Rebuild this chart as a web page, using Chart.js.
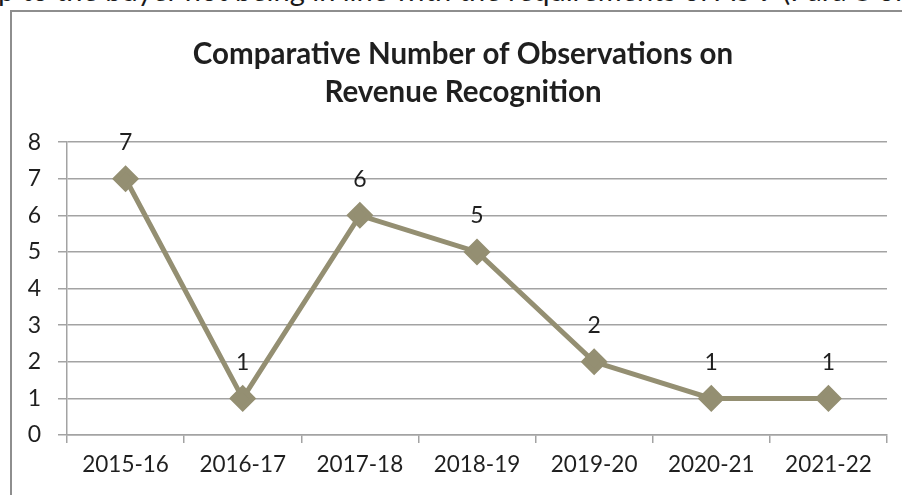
<!DOCTYPE html>
<html>
<head>
<meta charset="utf-8">
<script src="https://cdn.jsdelivr.net/npm/chart.js@4"></script>
<style>
  html, body { margin: 0; padding: 0; background: #fff; overflow: hidden; width: 902px; height: 495px; }
  #above { position: absolute; left: -2px; top: -25px; font: 29px Lato, sans-serif; line-height: 29px; color: #1a1a1a; white-space: nowrap; }
  #box { position: absolute; left: 10px; top: 10px; width: 902px; height: 500px; border: 2px solid #8e8e8e; background: #fff; }
  #wrap { position: relative; width: 902px; height: 500px; }
</style>
</head>
<body>
<div id="above">p to the buyer not being in line with the requirements of AS 9 (Para 8 of</div>
<div id="box"><div id="wrap"><canvas id="obsChart"></canvas></div></div>
<script>
// Chart data
var years = ["2015-16", "2016-17", "2017-18", "2018-19", "2019-20", "2020-21", "2021-22"];
var observations = [7, 1, 6, 5, 2, 1, 1];
var titleLines = ["Comparative Number of Observations on", "Revenue Recognition"];

var lineColor = "#948f72";
var textColor = "#1f1f1f";
var gridColor = "#a3a3a3";

// simple data labels drawn above each point
var pointLabels = {
  id: "pointLabels",
  afterDatasetsDraw: function (chart) {
    var ctx = chart.ctx;
    var meta = chart.getDatasetMeta(0);
    ctx.save();
    ctx.font = "23px Lato";
    ctx.fillStyle = textColor;
    ctx.textAlign = "center";
    ctx.textBaseline = "middle";
    meta.data.forEach(function (pt, i) {
      ctx.fillText(String(observations[i]), pt.x, pt.y - 36);
    });
    ctx.restore();
  }
};

new Chart(document.getElementById("obsChart"), {
  type: "line",
  data: {
    labels: years,
    datasets: [{
      data: observations,
      borderColor: lineColor,
      backgroundColor: lineColor,
      borderWidth: 5,
      pointStyle: "rectRot",
      pointRadius: 10,
      pointHoverRadius: 10,
      tension: 0
    }]
  },
  plugins: [pointLabels],
  options: {
    responsive: true,
    maintainAspectRatio: false,
    animation: false,
    layout: { padding: { left: 0, right: 0, top: 0, bottom: 26 } },
    plugins: {
      legend: { display: false },
      tooltip: { enabled: false },
      title: {
        display: true,
        text: titleLines,
        color: textColor,
        font: { family: "Lato", size: 29.5, weight: "bold", lineHeight: 1.29 },
        padding: { top: 23, bottom: 31 }
      }
    },
    scales: {
      x: {
        offset: true,
        grid: { offset: true, drawOnChartArea: false, color: gridColor, lineWidth: 1.5, tickLength: 8 },
        border: { color: gridColor, width: 1.5 },
        ticks: { color: textColor, font: { family: "Lato", size: 22.5 }, padding: 8, maxRotation: 0 }
      },
      y: {
        min: 0,
        max: 8,
        afterFit: function (scale) { scale.width = 55; },
        grid: { color: gridColor, lineWidth: 1.5, tickLength: 9 },
        border: { color: gridColor, width: 1.5 },
        ticks: { stepSize: 1, color: textColor, font: { family: "Lato", size: 23 }, padding: 17 }
      },
      // empty right-hand space so the title stays centred on the whole box
      spacer: {
        type: "linear",
        position: "right",
        min: 0,
        max: 8,
        afterFit: function (scale) { scale.width = 27; },
        grid: { display: false },
        border: { display: false },
        ticks: { display: false }
      }
    }
  }
});
</script>
</body>
</html>
